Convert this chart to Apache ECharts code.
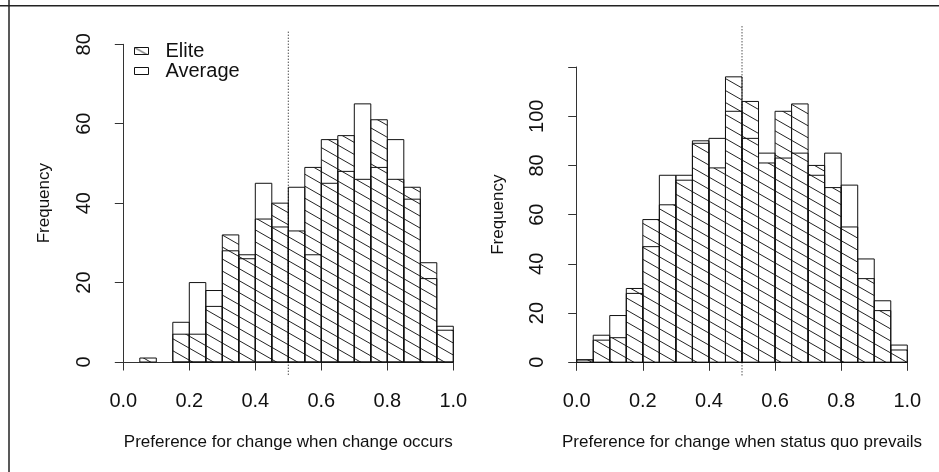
<!DOCTYPE html>
<html>
<head>
<meta charset="utf-8">
<script src="https://cdn.jsdelivr.net/npm/echarts@6/dist/echarts.min.js"></script>
<style>
html,body{margin:0;padding:0;background:#fff;}
#chart{width:939px;height:472px;}
</style>
</head>
<body>
<div id="chart"></div>
<script>
// ---- data ----
const binStart = [0.00,0.05,0.10,0.15,0.20,0.25,0.30,0.35,0.40,0.45,0.50,0.55,0.60,0.65,0.70,0.75,0.80,0.85,0.90,0.95];
const binEnd   = [0.05,0.10,0.15,0.20,0.25,0.30,0.35,0.40,0.45,0.50,0.55,0.60,0.65,0.70,0.75,0.80,0.85,0.90,0.95,1.00];

// Left panel: change occurs
const eliteChange   = [0,1,0,7,7,14,32,27,36,40,33,49,56,57,46,61,46,44,25,8];
const averageChange = [0,0,0,10,20,18,28,26,45,34,44,27,45,48,65,49,56,41,21,9];

// Right panel: status quo prevails
const eliteStatusQuo   = [1,9,10,30,58,64,74,90,79,116,106,81,102,105,80,71,55,34,21,5];
const averageStatusQuo = [1,11,19,28,47,76,76,89,91,102,91,85,83,85,76,85,72,42,25,7];

const xTicks = [0.0,0.2,0.4,0.6,0.8,1.0];
const leftYTicks = [0,20,40,60,80];
const rightYTicks = [0,20,40,60,80,100,120];
const rightYLabelled = [0,20,40,60,80,100];

const xTitles = ['Preference for change when change occurs','Preference for change when status quo prevails'];
const yTitle = 'Frequency';
const refLine = 0.5;
const plotRegionY = [[-3.2, 83.2], [-5.3, 136.6]];

// ---- hatch pattern ----
const tile = document.createElement('canvas');
tile.width = 21; tile.height = 12;
(function(){
  const c = tile.getContext('2d');
  c.strokeStyle = '#222';
  c.lineWidth = 1;
  c.beginPath();
  [-12, 0, 12].forEach(function(dy){
    c.moveTo(0, dy); c.lineTo(21, dy + 12);
  });
  c.stroke();
})();
const hatch = {image: tile, repeat: 'repeat'};

const FONT = "'Liberation Sans', Arial, Helvetica, sans-serif";
const INK = '#111';

function toItems(vals){
  return vals.map(function(v, i){ return [binStart[i], binEnd[i], v]; });
}

function barRender(fill){
  return function(params, api){
    const v = api.value(2);
    if (!v) return null;
    const p0 = api.coord([api.value(0), v]);
    const p1 = api.coord([api.value(1), 0]);
    return {
      type: 'rect',
      shape: {x: p0[0], y: p0[1], width: p1[0] - p0[0], height: p1[1] - p0[1]},
      style: {fill: fill, stroke: INK, lineWidth: 1}
    };
  };
}

function lineRender(params, api){
  const a = api.coord([api.value(0), api.value(1)]);
  const b = api.coord([api.value(0), api.value(2)]);
  return {
    type: 'line',
    shape: {x1: a[0], y1: a[1], x2: b[0], y2: b[1]},
    style: {stroke: '#000', lineWidth: 1, lineDash: [1, 2]}
  };
}

function xAxisCfg(idx){
  return {
    gridIndex: idx, type: 'value', min: 0, max: 1, interval: 0.2,
    offset: 13,
    axisLine: {show: true, lineStyle: {color: '#333', width: 1}},
    axisTick: {show: true, length: 8.5, lineStyle: {color: '#333', width: 1}},
    axisLabel: {fontSize: 20, color: INK, fontFamily: FONT, margin: 16,
      formatter: function(v){ return xTicks.some(function(t){ return Math.abs(t - v) < 1e-9; }) ? v.toFixed(1) : ''; }},
    splitLine: {show: false},
    name: xTitles[idx], nameLocation: 'middle', nameGap: 59,
    nameTextStyle: {fontSize: 17, color: INK, fontFamily: FONT}
  };
}

function yAxisCfg(idx, max, labelled){
  return {
    gridIndex: idx, type: 'value', min: 0, max: max, interval: 20,
    offset: 13,
    axisLine: {show: true, lineStyle: {color: '#333', width: 1}},
    axisTick: {show: true, length: 8.5, lineStyle: {color: '#333', width: 1}},
    axisLabel: {fontSize: 20, color: INK, fontFamily: FONT, rotate: 90, margin: 16,
      formatter: function(v){ return labelled.indexOf(v) >= 0 ? String(v) : ''; }},
    splitLine: {show: false},
    name: yTitle, nameLocation: 'middle', nameGap: 57,
    nameTextStyle: {fontSize: 17, color: INK, fontFamily: FONT}
  };
}

const chart = echarts.init(document.getElementById('chart'), null, {renderer: 'canvas'});
chart.setOption({
  backgroundColor: '#fff',
  animation: false,
  textStyle: {fontFamily: FONT},
  grid: [
    {left: 123.3, top: 44.3, width: 330, height: 317.7},
    {left: 576.7, top: 67, width: 330.6, height: 295.3}
  ],
  xAxis: [xAxisCfg(0), xAxisCfg(1)],
  yAxis: [yAxisCfg(0, 80, leftYTicks), yAxisCfg(1, 120, rightYLabelled)],
  legend: {
    orient: 'vertical', left: 129, top: 36,
    itemWidth: 14, itemHeight: 7, itemGap: 0,
    selectedMode: false, icon: 'rect',
    textStyle: {fontSize: 20, color: INK, fontFamily: FONT, padding: [0, 0, 0, 12]},
    data: [
      {name: 'Elite', itemStyle: {color: hatch, borderColor: INK, borderWidth: 1}},
      {name: 'Average', itemStyle: {color: '#fff', borderColor: INK, borderWidth: 1}}
    ]
  },
  graphic: [
    {type: 'line', shape: {x1: 9, y1: 0, x2: 9, y2: 472}, style: {stroke: '#222', lineWidth: 1.5}, silent: true},
    {type: 'line', shape: {x1: 0, y1: 5.7, x2: 939, y2: 5.7}, style: {stroke: '#222', lineWidth: 1.5}, silent: true}
  ],
  series: [
    {type: 'custom', name: 'Elite', xAxisIndex: 0, yAxisIndex: 0, renderItem: barRender(hatch),
      itemStyle: {color: hatch}, data: toItems(eliteChange), encode: {x: [0, 1], y: 2}},
    {type: 'custom', name: 'Average', xAxisIndex: 0, yAxisIndex: 0, renderItem: barRender('none'),
      itemStyle: {color: '#fff'}, data: toItems(averageChange), encode: {x: [0, 1], y: 2}},
    {type: 'custom', name: 'ref0', xAxisIndex: 0, yAxisIndex: 0, renderItem: lineRender, clip: false,
      data: [[refLine, plotRegionY[0][0], plotRegionY[0][1]]], encode: {x: 0, y: [1, 2]}},
    {type: 'custom', name: 'Elite', xAxisIndex: 1, yAxisIndex: 1, renderItem: barRender(hatch),
      itemStyle: {color: hatch}, data: toItems(eliteStatusQuo), encode: {x: [0, 1], y: 2}},
    {type: 'custom', name: 'Average', xAxisIndex: 1, yAxisIndex: 1, renderItem: barRender('none'),
      itemStyle: {color: '#fff'}, data: toItems(averageStatusQuo), encode: {x: [0, 1], y: 2}},
    {type: 'custom', name: 'ref1', xAxisIndex: 1, yAxisIndex: 1, renderItem: lineRender, clip: false,
      data: [[refLine, plotRegionY[1][0], plotRegionY[1][1]]], encode: {x: 0, y: [1, 2]}}
  ]
});
</script>
</body>
</html>
